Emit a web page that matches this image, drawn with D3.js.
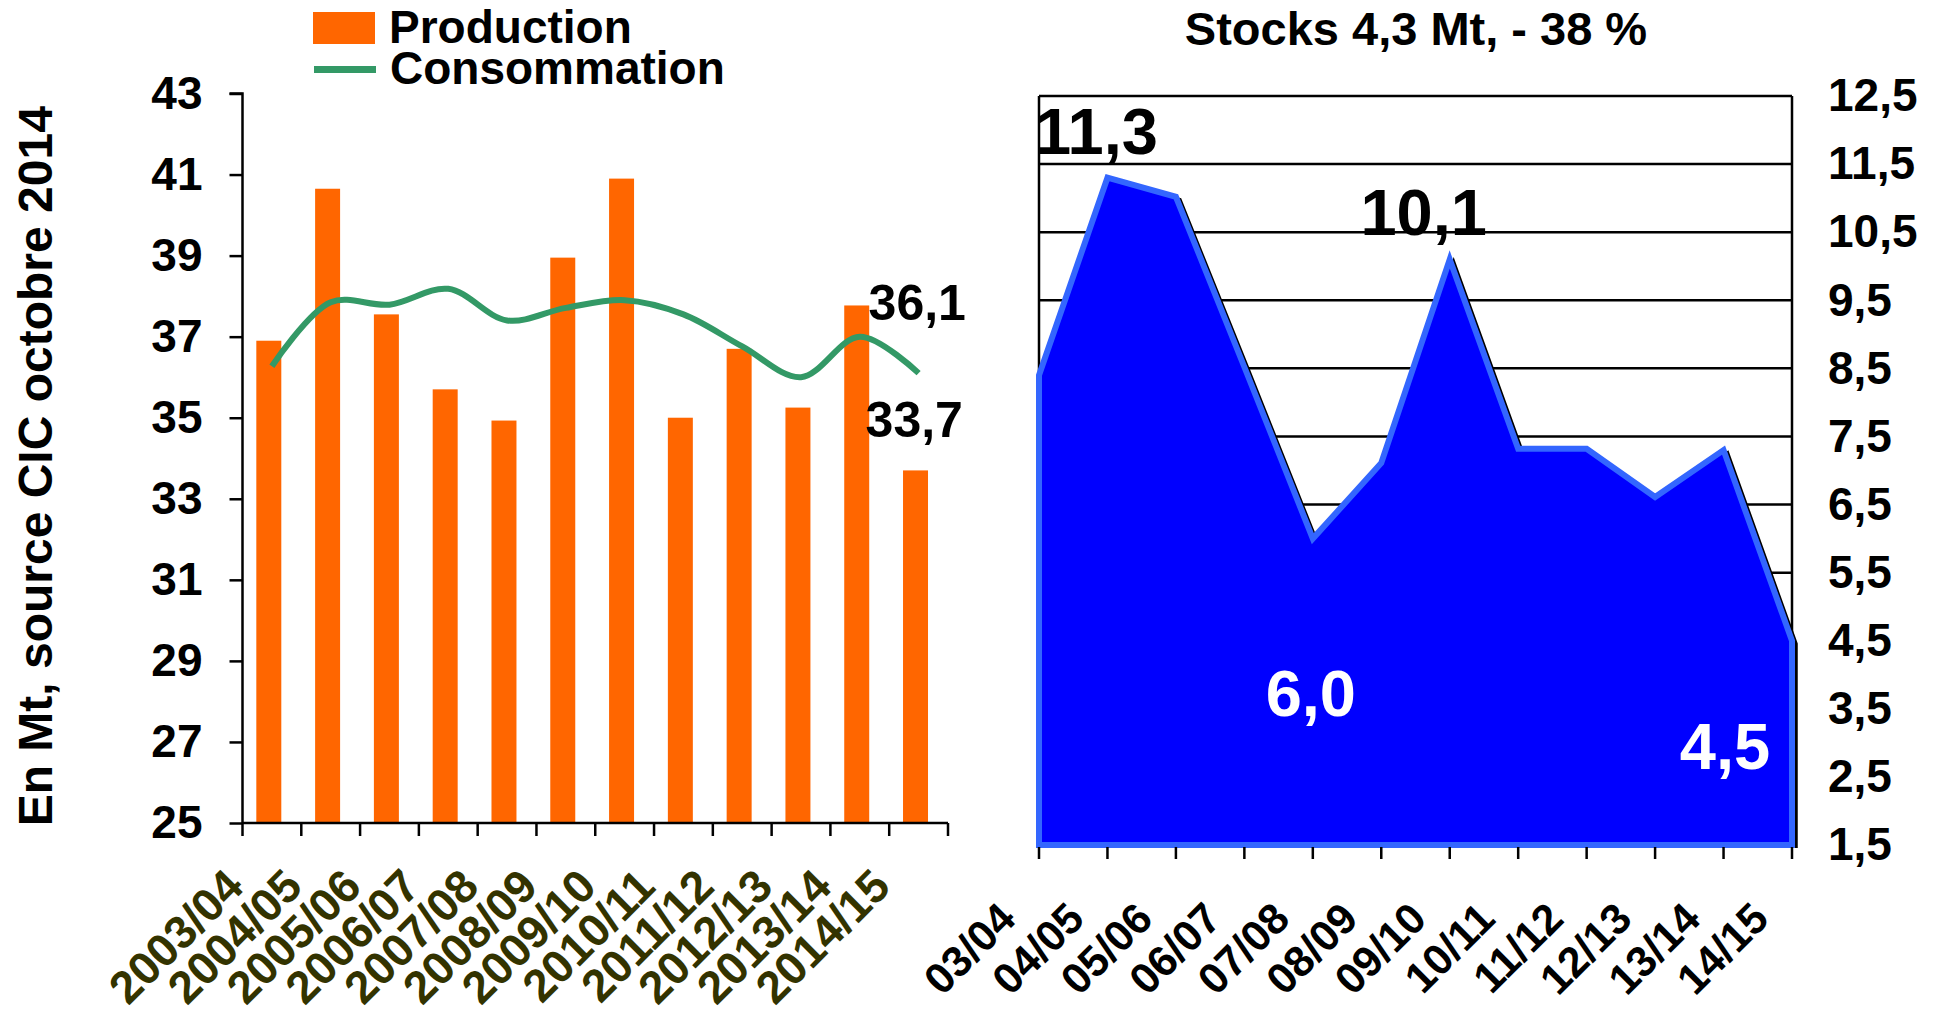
<!DOCTYPE html>
<html>
<head>
<meta charset="utf-8">
<script src="https://cdn.jsdelivr.net/npm/d3@7"></script>
<style>
  html, body { margin: 0; padding: 0; background: #ffffff; }
  svg { display: block; font-family: "Liberation Sans", Arial, sans-serif; font-weight: bold; }
</style>
</head>
<body>
<svg id="chart" width="1936" height="1016"></svg>
<script>
// ---------- data ----------
const years = ["2003/04","2004/05","2005/06","2006/07","2007/08","2008/09","2009/10","2010/11","2011/12","2012/13","2013/14","2014/15"];
const production = [36.9, 40.65, 37.55, 35.7, 34.93, 38.95, 40.9, 35.0, 36.7, 35.25, 37.77, 33.7];
const consommation = [36.27, 37.85, 37.79, 38.18, 37.4, 37.71, 37.9, 37.55, 36.76, 36.0, 37.0, 36.1];
const leftTicks = [25, 27, 29, 31, 33, 35, 37, 39, 41, 43];

const seasons = ["03/04","04/05","05/06","06/07","07/08","08/09","09/10","10/11","11/12","12/13","13/14","14/15"];
const stocks = [8.4, 11.3, 11.02, 8.52, 6.0, 7.11, 10.1, 7.32, 7.32, 6.61, 7.3, 4.5];
const rightTicks = [1.5, 2.5, 3.5, 4.5, 5.5, 6.5, 7.5, 8.5, 9.5, 10.5, 11.5, 12.5];

const legendLabels = ["Production", "Consommation"];
const yTitle = "En Mt, source CIC octobre 2014";
const rightTitle = "Stocks 4,3 Mt, - 38 %";

const fmt = v => d3.format(".1f")(v).replace(".", ",");

const svg = d3.select("#chart");

// ---------- left chart ----------
const L = { x0: 242.5, x1: 948, yTop: 93.5, yBot: 823 };
const xL = d3.scaleBand().domain(years).range([L.x0, L.x1]).padding(0);
const yL = d3.scaleLinear().domain([25, 43]).range([L.yBot, L.yTop]);
const bw = xL.bandwidth();

// bars
svg.append("g").selectAll("rect").data(years).join("rect")
  .attr("x", d => xL(d) + bw * 0.235)
  .attr("width", bw * 0.425)
  .attr("y", (d, i) => yL(production[i]))
  .attr("height", (d, i) => yL(25) - yL(production[i]))
  .attr("fill", "#ff6600");

// consumption line
const line = d3.line()
  .x((d, i) => xL(years[i]) + bw / 2)
  .y(d => yL(d))
  .curve(d3.curveCatmullRom.alpha(0.5));
svg.append("path").datum(consommation)
  .attr("d", line)
  .attr("fill", "none")
  .attr("stroke", "#339966")
  .attr("stroke-width", 6);

// y axis
const yAxisL = svg.append("g").attr("transform", `translate(${L.x0},0)`)
  .call(d3.axisLeft(yL).tickValues(leftTicks).tickSize(13).tickPadding(27).tickFormat(d3.format("d")));
yAxisL.select(".domain").attr("stroke", "#000").attr("stroke-width", 2.5).attr("d", `M-13,${yL(43)}H0V${yL(25)}`);
yAxisL.selectAll(".tick line").attr("stroke", "#000").attr("stroke-width", 2.5);
yAxisL.selectAll(".tick text").attr("font-size", 46).attr("font-weight", "bold").attr("fill", "#000")
  .attr("font-family", "Liberation Sans, Arial, sans-serif");

// x axis (line + edge ticks)
const edges = years.map(d => xL(d)).concat([xL.range()[1]]);
const xAxisL = svg.append("g");
xAxisL.append("line").attr("x1", L.x0).attr("x2", L.x1).attr("y1", L.yBot).attr("y2", L.yBot)
  .attr("stroke", "#000").attr("stroke-width", 2.5);
xAxisL.selectAll("line.t").data(edges).join("line").attr("class", "t")
  .attr("x1", d => d).attr("x2", d => d).attr("y1", L.yBot).attr("y2", L.yBot + 13)
  .attr("stroke", "#000").attr("stroke-width", 2.5);
xAxisL.selectAll("text").data(years).join("text")
  .attr("transform", d => `translate(${xL(d) + bw / 2 - 26},${L.yBot + 66}) rotate(-45)`)
  .attr("text-anchor", "end")
  .attr("font-size", 46)
  .attr("fill", "#333300")
  .text(d => d);

// end-value labels
const last = years.length - 1;
svg.append("text")
  .attr("x", xL(years[last]) + bw / 2 - 50)
  .attr("y", yL(consommation[last]) - 53)
  .attr("font-size", 50).attr("fill", "#000")
  .text(fmt(consommation[last]));
svg.append("text")
  .attr("x", xL(years[last]) + bw / 2 - 53)
  .attr("y", yL(production[last]) - 33)
  .attr("font-size", 50).attr("fill", "#000")
  .text(fmt(production[last]));

// y title
svg.append("text")
  .attr("transform", `translate(52,${(L.yTop + L.yBot) / 2 + 8}) rotate(-90)`)
  .attr("text-anchor", "middle")
  .attr("font-size", 48).attr("fill", "#000")
  .text(yTitle);

// legend
const lg = svg.append("g");
lg.append("rect").attr("x", 313).attr("y", 12).attr("width", 62).attr("height", 32).attr("fill", "#ff6600");
lg.append("line").attr("x1", 314).attr("x2", 376).attr("y1", 69.5).attr("y2", 69.5)
  .attr("stroke", "#339966").attr("stroke-width", 7);
lg.append("text").attr("x", 389).attr("y", 42.5).attr("font-size", 46).attr("fill", "#000").text(legendLabels[0]);
lg.append("text").attr("x", 390).attr("y", 84).attr("font-size", 46).attr("fill", "#000").text(legendLabels[1]);

// ---------- right chart ----------
const R = { x0: 1039, x1: 1792, yTop: 96, yBot: 845 };
const xR = d3.scalePoint().domain(seasons).range([R.x0, R.x1]);
const yR = d3.scaleLinear().domain([1.5, 12.5]).range([R.yBot, R.yTop]);

// title
svg.append("text").attr("x", (1181 + 1651) / 2).attr("y", 45).attr("text-anchor", "middle")
  .attr("font-size", 47).attr("fill", "#000").text(rightTitle);

// gridlines
svg.append("g").selectAll("line").data(rightTicks).join("line")
  .attr("x1", R.x0).attr("x2", R.x1)
  .attr("y1", d => yR(d)).attr("y2", d => yR(d))
  .attr("stroke", "#000").attr("stroke-width", 2.5);
// frame sides
svg.append("line").attr("x1", R.x0).attr("x2", R.x0).attr("y1", R.yTop).attr("y2", R.yBot).attr("stroke", "#000").attr("stroke-width", 2.5);
svg.append("line").attr("x1", R.x1).attr("x2", R.x1).attr("y1", R.yTop).attr("y2", R.yBot).attr("stroke", "#000").attr("stroke-width", 2.5);

// shadow of area outline
const areaPts = stocks.map((v, i) => [xR(seasons[i]), yR(v)]);
const shadowPts = [[R.x0, yR(1.5)]].concat(areaPts).concat([[R.x1, yR(1.5)]]);
svg.append("path").datum(shadowPts)
  .attr("d", d3.line())
  .attr("transform", "translate(4,3)")
  .attr("fill", "none").attr("stroke", "#000").attr("stroke-width", 3.5);

// area
const area = d3.area()
  .x((d, i) => xR(seasons[i]))
  .y0(yR(1.5))
  .y1(d => yR(d));
svg.append("path").datum(stocks)
  .attr("d", d => area(d) + "Z")
  .attr("fill", "#0000ff")
  .attr("stroke", "#3366ff")
  .attr("stroke-width", 6)
  .attr("stroke-linejoin", "miter");

// x axis ticks
const xAxisR = svg.append("g");
xAxisR.selectAll("line").data(seasons).join("line")
  .attr("x1", d => xR(d)).attr("x2", d => xR(d)).attr("y1", R.yBot + 2).attr("y2", R.yBot + 14)
  .attr("stroke", "#000").attr("stroke-width", 2.5);
xAxisR.selectAll("text").data(seasons).join("text")
  .attr("transform", d => `translate(${xR(d) - 21},${R.yBot + 76}) rotate(-45)`)
  .attr("text-anchor", "end")
  .attr("font-size", 43).attr("fill", "#000")
  .text(d => d);

// right y axis labels
const yAxisR = svg.append("g").attr("transform", `translate(${R.x1},0)`)
  .call(d3.axisRight(yR).tickValues(rightTicks).tickSize(0).tickPadding(36).tickFormat(fmt));
yAxisR.select(".domain").remove();
yAxisR.selectAll(".tick text").attr("font-size", 46).attr("font-weight", "bold").attr("fill", "#000")
  .attr("font-family", "Liberation Sans, Arial, sans-serif");

// value annotations
const notes = [
  { i: 1, dx: -11, dy: -24, color: "#000" },
  { i: 6, dx: -26, dy: -24, color: "#000" },
  { i: 4, dx: -2, dy: 177, color: "#fff" },
  { i: 11, dx: -67, dy: 128, color: "#fff" }
];
svg.append("g").selectAll("text").data(notes).join("text")
  .attr("x", d => xR(seasons[d.i]) + d.dx)
  .attr("y", d => yR(stocks[d.i]) + d.dy)
  .attr("text-anchor", "middle")
  .attr("font-size", 65)
  .attr("fill", d => d.color)
  .text(d => fmt(stocks[d.i]));
</script>
</body>
</html>
